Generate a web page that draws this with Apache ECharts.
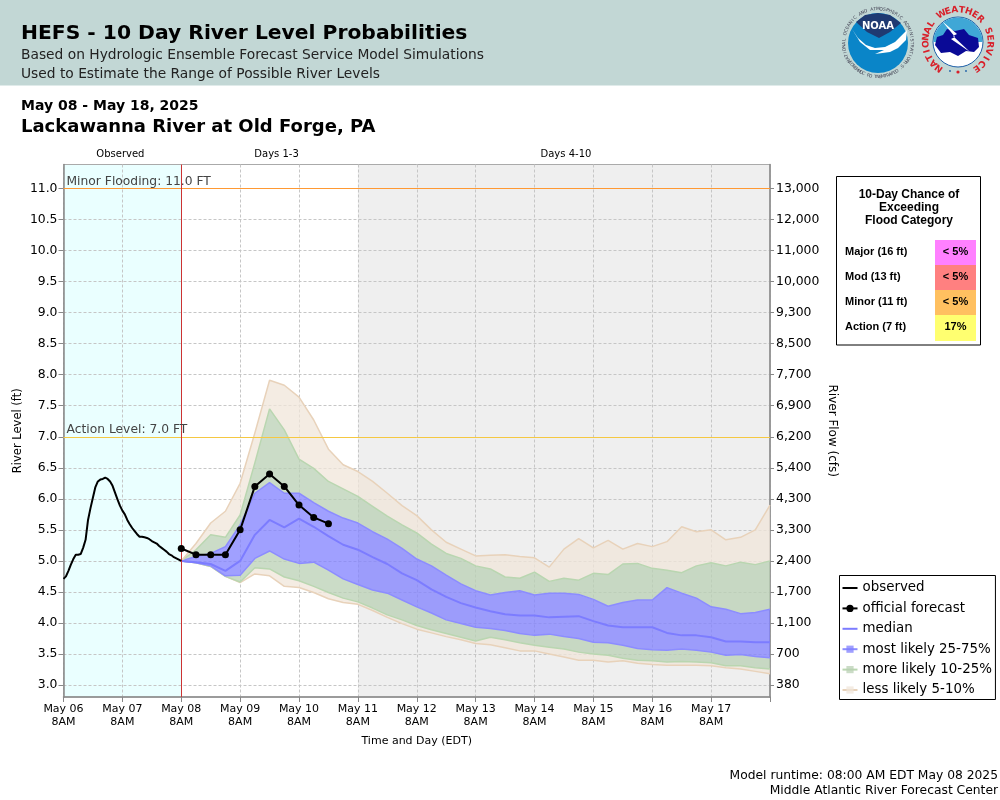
<!DOCTYPE html>
<html lang="en">
<head>
    <meta charset="UTF-8">
    <title>HEFS - 10 Day River Level Probabilities</title>
    <style>
        html, body { margin: 0; padding: 0; background: #fff; }
        #main { width: 1000px; height: 800px; }
    </style>
</head>
<body>
<script src="https://cdn.jsdelivr.net/npm/echarts@6/dist/echarts.min.js"></script>
<div id="main"></div>

<script type="text/javascript">
    // hours since May 06 8AM
    var obsHours = [0,1,2,3,4,5,6,7,8,9,10,11,12,13,14,15,16,17,18,19,20,21,22,23,24,25,26,27,28,29,30,31,32,33,34,35,36,37,38,39,40,41,42,43,44,45,46,47,48];
    var observed = [4.71,4.75,4.84,4.94,5.03,5.10,5.10,5.11,5.21,5.34,5.66,5.85,6.02,6.19,6.28,6.31,6.32,6.34,6.32,6.28,6.21,6.10,5.99,5.89,5.81,5.75,5.66,5.59,5.53,5.48,5.43,5.39,5.39,5.38,5.37,5.35,5.32,5.30,5.28,5.24,5.21,5.18,5.15,5.11,5.09,5.06,5.04,5.02,5.00];

    var fcstHours = [48,54,60,66,72,78,84,90,96,102,108];
    var official = [5.2,5.1,5.1,5.1,5.5,6.2,6.4,6.2,5.9,5.7,5.6];

    // ensemble traces, every 6 hours from May 08 8AM to May 18 8AM
    var bandHours = [48,54,60,66,72,78,84,90,96,102,108,114,120,126,132,138,144,150,156,162,168,174,180,186,192,198,204,210,216,222,228,234,240,246,252,258,264,270,276,282,288];
    var p95 = [5.00,5.28,5.61,5.80,6.25,7.06,7.91,7.83,7.64,7.27,6.80,6.55,6.44,6.28,6.09,5.89,5.73,5.50,5.30,5.19,5.08,5.09,5.10,5.07,5.05,4.90,5.19,5.36,5.21,5.33,5.19,5.28,5.23,5.31,5.55,5.47,5.50,5.34,5.38,5.50,5.90];
    var p90 = [5.00,5.18,5.42,5.38,5.74,6.58,7.45,7.11,6.64,6.49,6.28,6.16,6.04,5.88,5.72,5.58,5.45,5.27,5.12,5.04,4.92,4.87,4.74,4.72,4.82,4.67,4.72,4.69,4.80,4.78,4.95,4.96,4.88,4.85,4.81,4.92,4.97,4.92,4.98,4.94,5.00];
    var p75 = [5.00,5.07,5.12,5.23,5.58,6.09,6.26,6.09,6.09,5.94,5.80,5.69,5.61,5.47,5.35,5.20,5.03,4.92,4.77,4.63,4.52,4.45,4.49,4.52,4.45,4.48,4.48,4.46,4.38,4.27,4.33,4.37,4.37,4.57,4.48,4.40,4.26,4.22,4.15,4.17,4.22];
    var median = [5.00,4.98,4.95,4.84,5.00,5.42,5.66,5.54,5.68,5.55,5.40,5.26,5.18,5.06,4.95,4.80,4.69,4.54,4.42,4.32,4.25,4.19,4.14,4.12,4.12,4.09,4.10,4.11,4.03,3.96,3.93,3.93,3.93,3.84,3.80,3.80,3.77,3.70,3.70,3.69,3.69];
    var p25 = [5.00,4.97,4.92,4.76,4.77,5.04,5.16,5.03,4.96,4.98,4.85,4.71,4.62,4.53,4.48,4.37,4.26,4.16,4.05,3.99,3.93,3.91,3.88,3.83,3.80,3.82,3.78,3.75,3.69,3.68,3.64,3.59,3.57,3.56,3.58,3.56,3.53,3.48,3.49,3.46,3.44];
    var p10 = [5.00,4.97,4.91,4.75,4.66,4.89,4.87,4.74,4.68,4.59,4.49,4.40,4.34,4.24,4.13,4.05,3.96,3.89,3.83,3.77,3.71,3.77,3.73,3.68,3.64,3.61,3.58,3.53,3.50,3.48,3.43,3.40,3.39,3.37,3.38,3.37,3.36,3.31,3.31,3.28,3.26];
    var p5 = [5.00,4.97,4.91,4.75,4.65,4.79,4.76,4.59,4.57,4.49,4.39,4.33,4.30,4.20,4.09,3.99,3.90,3.84,3.78,3.73,3.67,3.65,3.60,3.55,3.55,3.50,3.45,3.40,3.40,3.37,3.39,3.35,3.33,3.32,3.32,3.32,3.31,3.28,3.26,3.22,3.18];

    var stageTicks = [3.0,3.5,4.0,4.5,5.0,5.5,6.0,6.5,7.0,7.5,8.0,8.5,9.0,9.5,10.0,10.5,11.0];
    var flowTicks = ['380','700','1,100','1,700','2,400','3,300','4,300','5,400','6,200','6,900','7,700','8,500','9,300','10,000','11,000','12,000','13,000'];
    var timeLabels = ['May 06','May 07','May 08','May 09','May 10','May 11','May 12','May 13','May 14','May 15','May 16','May 17'];

    var floodRows = ['Major (16 ft)','Mod (13 ft)','Minor (11 ft)','Action (7 ft)'];
    var floodChance = ['< 5%','< 5%','< 5%','17%'];
    var floodColors = ['#ff80ff','#ff8080','#ffc060','#ffff70'];

    var nowHour = 48;
    var shortRangeEnd = 120;
    var endHour = 288;
    var actionLevel = 7.0;
    var minorLevel = 11.0;
    var stageMin = 2.807;
    var stageMax = 11.387;

    var FONT = 'DejaVu Sans';
    var GRID_LINE = { color: '#c6c6c6', type: [3, 2], width: 1 };
    var TAN = 'rgba(240,230,218,0.75)', TAN_LINE = '#e8d2ba';
    var GREEN = 'rgba(186,208,180,0.75)', GREEN_LINE = '#b9d6b0';
    var BLUE = 'rgba(128,128,255,0.75)', BLUE_LINE = '#8c8cff';

    // one category per hour, named only at the daily 8AM ticks
    var hourCategories = [];
    for (var h = 0; h <= endHour; h++) {
        var day = timeLabels[h / 24];
        hourCategories.push(day ? day + '\n8AM' : '');
    }

    function pairs(xs, ys) {
        return xs.map(function (x, i) { return [x, ys[i]]; });
    }

    // thickness of one band over the trace below it
    function layer(upper, lower) {
        return pairs(bandHours, upper.map(function (v, i) { return v - lower[i]; }));
    }

    function bandSeries(name, upper, lower, fill, edge) {
        return {
            name: name,
            type: 'line',
            stack: 'bands',
            data: layer(upper, lower),
            symbol: 'rect',
            showSymbol: false,
            silent: true,
            lineStyle: { color: edge, width: 1.5 },
            itemStyle: { color: fill },
            areaStyle: { color: fill, opacity: 1 },
            z: 2
        };
    }

    // letters set one by one around a circle, angle in degrees clockwise from the top
    function ringText(text, cx, cy, r, from, to, size, color, weight, flip) {
        var out = [];
        var step = (to - from) / (text.length - 1);
        for (var i = 0; i < text.length; i++) {
            var a = (from + step * i) * Math.PI / 180;
            out.push({
                type: 'text',
                x: cx + r * Math.sin(a),
                y: cy - r * Math.cos(a),
                rotation: flip ? Math.PI - a : -a,
                z: 20,
                style: { text: text.charAt(i), fill: color, font: weight + ' ' + size + 'px "' + FONT + '"', textAlign: 'center', textVerticalAlign: 'middle' }
            });
        }
        return out;
    }

    function plainText(text, x, y, font, color, align) {
        return {
            type: 'text', x: x, y: y, z: 20,
            style: { text: text, font: font, fill: color || '#000', textAlign: align || 'left', textVerticalAlign: 'middle' }
        };
    }

    function poly(points, fill, z) {
        return { type: 'polygon', shape: { points: points }, style: { fill: fill }, z: z };
    }

    var graphics = [
        { type: 'rect', shape: { x: 0, y: 0, width: 1000, height: 85.5 }, style: { fill: '#c2d7d5' }, z: -10 },
        plainText('Based on Hydrologic Ensemble Forecast Service Model Simulations', 21, 55, '13.8px "' + FONT + '"', '#222'),
        plainText('Used to Estimate the Range of Possible River Levels', 21, 74, '13.8px "' + FONT + '"', '#222'),
        plainText('Model runtime: 08:00 AM EDT May 08 2025', 998, 776, '12.3px "' + FONT + '"', '#000', 'right'),
        plainText('Middle Atlantic River Forecast Center', 998, 791, '12.3px "' + FONT + '"', '#000', 'right'),

        // NOAA logo
        { type: 'circle', shape: { cx: 878, cy: 43, r: 30 }, style: { fill: '#0a85c8' }, z: 15 },
        poly([[852,29],[858,38],[866,45],[875,48],[885,47],[895,42],[907,30],[906,40],[898,48],[890,52],[875,54],[884,50],[870,50],[860,42]], '#fff', 16),
        poly([[856,22],[865,15],[878,13],[890,15],[901,23],[890,32],[879,38],[867,32]], '#1f3a72', 16),
        plainText('NOAA', 878, 26, 'bold 10px "' + FONT + '"', '#fff', 'center'),

        // NWS logo
        { type: 'circle', shape: { cx: 958, cy: 42, r: 25 }, style: { fill: '#fff', stroke: '#1d5fa8', lineWidth: 1 }, z: 15 },
        { type: 'sector', shape: { cx: 958, cy: 42, r: 24.5, startAngle: Math.PI, endAngle: Math.PI * 2 }, style: { fill: '#3fa7d6' }, z: 16 },
        poly([[935,45],[937,37],[943,35],[947,29],[955,31],[964,29],[969,35],[978,38],[979,47],[974,52],[966,51],[958,56],[950,52],[941,53]], '#0a0a96', 17),
        poly([[942,21],[957,34],[953,36],[970,52],[951,39],[955,37]], '#fff', 18),
        { type: 'circle', shape: { cx: 958, cy: 72, r: 1.6 }, style: { fill: '#d8202a' }, z: 16 },
        { type: 'circle', shape: { cx: 950, cy: 71, r: 0.9 }, style: { fill: '#1d5fa8' }, z: 16 },
        { type: 'circle', shape: { cx: 966, cy: 71, r: 0.9 }, style: { fill: '#1d5fa8' }, z: 16 },

        // flood category table
        { type: 'rect', shape: { x: 836.5, y: 176.5, width: 144, height: 168.5 }, style: { fill: '#fff', stroke: '#000', lineWidth: 1 }, z: 10 },
        plainText('10-Day Chance of', 909, 195, 'bold 12px "Liberation Sans"', '#000', 'center'),
        plainText('Exceeding', 909, 208, 'bold 12px "Liberation Sans"', '#000', 'center'),
        plainText('Flood Category', 909, 221, 'bold 12px "Liberation Sans"', '#000', 'center')
    ];

    floodRows.forEach(function (row, i) {
        var top = 240 + i * 25;
        graphics.push({ type: 'rect', shape: { x: 935, y: top, width: 41, height: i === 3 ? 26 : 25 }, style: { fill: floodColors[i] }, z: 11 });
        graphics.push(plainText(row, 845, top + 12, 'bold 11px "Liberation Sans"'));
        graphics.push(plainText(floodChance[i], 955.5, top + 12, 'bold 11px "Liberation Sans"', '#000', 'center'));
    });

    graphics = graphics
        .concat(ringText('NATIONAL WEATHER SERVICE', 958, 42, 32, -144, 145, 9, '#d8202a', 'bold', false))
        .concat(ringText('NATIONAL OCEANIC AND ATMOSPHERIC ADMINISTRATION', 878, 43, 34, -122, 122, 4.5, '#445', 'normal', false))
        .concat(ringText('U.S. DEPARTMENT OF COMMERCE', 878, 43, 34, 125, 235, 4.5, '#445', 'normal', true));

    var option = {
        animation: false,
        backgroundColor: '#fff',
        textStyle: { fontFamily: FONT },
        title: [
            { text: 'HEFS - 10 Day River Level Probabilities', left: 21, top: 24, padding: 0, textStyle: { fontFamily: FONT, fontWeight: 'bold', fontSize: 20.3, color: '#000' } },
            { text: 'May 08 - May 18, 2025', left: 21, top: 99, padding: 0, textStyle: { fontFamily: FONT, fontWeight: 'bold', fontSize: 14, color: '#000' } },
            { text: 'Lackawanna River at Old Forge, PA', left: 21, top: 118, padding: 0, textStyle: { fontFamily: FONT, fontWeight: 'bold', fontSize: 18, color: '#000' } }
        ],
        graphic: graphics,
        legend: {
            left: 839.5,
            top: 575.5,
            orient: 'vertical',
            selectedMode: false,
            backgroundColor: '#fff',
            borderColor: '#000',
            borderWidth: 1,
            borderRadius: 0,
            padding: [6, 3.5, 3, 2],
            itemWidth: 15,
            itemHeight: 9,
            itemGap: 7.4,
            textStyle: { fontFamily: FONT, fontSize: 13.4, color: '#000' },
            data: [
                { name: 'observed', itemStyle: { color: 'transparent' } },
                { name: 'official forecast' },
                { name: 'median', itemStyle: { color: 'transparent' } },
                { name: 'most likely 25-75%', itemStyle: { color: BLUE }, lineStyle: { color: BLUE_LINE, width: 2 } },
                { name: 'more likely 10-25%', itemStyle: { color: GREEN }, lineStyle: { color: GREEN_LINE, width: 2 } },
                { name: 'less likely 5-10%', itemStyle: { color: TAN }, lineStyle: { color: TAN_LINE, width: 2 } }
            ]
        },
        grid: { left: 63.5, top: 164.5, width: 706.5, height: 532.5, show: true, backgroundColor: 'transparent', borderColor: '#aaa', borderWidth: 1, outerBoundsMode: 'none' },
        xAxis: {
            type: 'category',
            data: hourCategories,
            boundaryGap: false,
            name: 'Time and Day (EDT)',
            nameLocation: 'middle',
            nameGap: 39,
            nameTextStyle: { fontSize: 11, color: '#000' },
            axisLine: { lineStyle: { color: '#888', width: 1.5 } },
            axisTick: { length: 5, interval: 23, lineStyle: { color: '#888' } },
            axisLabel: {
                fontSize: 11,
                color: '#000',
                lineHeight: 13,
                margin: 6,
                interval: 23
            },
            splitLine: { show: true, interval: 23, lineStyle: GRID_LINE }
        },
        yAxis: [
            {
                type: 'value',
                min: stageMin,
                max: stageMax,
                name: 'River Level (ft)',
                nameLocation: 'middle',
                nameRotate: 90,
                nameGap: 39,
                nameMoveOverlap: false,
                nameTextStyle: { fontSize: 11.5, color: '#000' },
                axisLine: { show: true, lineStyle: { color: '#888', width: 1.5 } },
                axisTick: { show: true, length: 5, customValues: stageTicks, lineStyle: { color: '#888' } },
                axisLabel: {
                    fontSize: 12.4,
                    color: '#000',
                    margin: 6,
                    customValues: stageTicks,
                    formatter: function (v) { return v.toFixed(1); }
                },
                splitLine: { show: true, lineStyle: GRID_LINE }
            },
            {
                type: 'value',
                position: 'right',
                min: stageMin,
                max: stageMax,
                name: 'River Flow (cfs)',
                nameLocation: 'middle',
                nameRotate: -90,
                nameGap: 56,
                nameMoveOverlap: false,
                nameTextStyle: { fontSize: 12, color: '#000' },
                axisLine: { show: true, lineStyle: { color: '#888', width: 1.5 } },
                axisTick: { show: true, length: 4, customValues: stageTicks, lineStyle: { color: '#888' } },
                axisLabel: {
                    fontSize: 12.4,
                    color: '#000',
                    margin: 6,
                    customValues: stageTicks,
                    formatter: function (v) { return flowTicks[stageTicks.indexOf(v)]; }
                },
                splitLine: { show: false }
            }
        ],
        series: [
            // period shading sits under the grid lines
            {
                name: 'periods',
                type: 'line',
                data: [],
                z: -1,
                silent: true,
                markArea: {
                    silent: true,
                    z: -1,
                    label: { position: 'top', fontSize: 10, color: '#000', distance: 5 },
                    data: [
                        [{ name: 'Observed', xAxis: 0, yAxis: stageMin, itemStyle: { color: '#eaffff' }, label: { offset: [-2, 0] } }, { xAxis: nowHour, yAxis: stageMax }],
                        [{ name: 'Days 1-3', xAxis: nowHour, yAxis: stageMin, itemStyle: { color: '#fff' }, label: { offset: [7, 0] } }, { xAxis: shortRangeEnd, yAxis: stageMax }],
                        [{ name: 'Days 4-10', xAxis: shortRangeEnd, yAxis: stageMin, itemStyle: { color: '#efefef' }, label: { offset: [2, 0] } }, { xAxis: endHour, yAxis: stageMax }]
                    ]
                }
            },
            {
                name: 'flood levels',
                type: 'line',
                data: [],
                z: 1,
                silent: true,
                markLine: {
                    silent: true,
                    symbol: 'none',
                    animation: false,
                    label: { position: 'insideStartTop', fontSize: 12.3, color: '#444', distance: [3, 0.5] },
                    data: [
                        { yAxis: minorLevel, lineStyle: { color: '#ff9933', type: 'solid', width: 1.2 }, label: { formatter: 'Minor Flooding: 11.0 FT' } },
                        { yAxis: actionLevel, lineStyle: { color: '#f5c842', type: 'solid', width: 1 }, label: { formatter: 'Action Level: 7.0 FT' } },
                        { xAxis: nowHour, lineStyle: { color: '#cc3333', type: 'solid', width: 1 }, label: { show: false } }
                    ]
                }
            },
            {
                name: 'p5',
                type: 'line',
                stack: 'bands',
                data: pairs(bandHours, p5),
                showSymbol: false,
                silent: true,
                lineStyle: { color: TAN_LINE, width: 1.5 },
                z: 2
            },
            bandSeries('less likely 5-10%', p10, p5, TAN, GREEN_LINE),
            bandSeries('more likely 10-25%', p25, p10, GREEN, BLUE_LINE),
            bandSeries('most likely 25-75%', p75, p25, BLUE, BLUE_LINE),
            bandSeries('more likely 10-25%', p90, p75, GREEN, GREEN_LINE),
            bandSeries('less likely 5-10%', p95, p90, TAN, TAN_LINE),
            {
                name: 'median',
                type: 'line',
                data: pairs(bandHours, median),
                symbol: 'none',
                silent: true,
                lineStyle: { color: '#7c7cff', width: 2 },
                itemStyle: { color: '#7c7cff' },
                z: 4
            },
            {
                name: 'observed',
                type: 'line',
                data: pairs(obsHours, observed),
                symbol: 'none',
                silent: true,
                lineStyle: { color: '#000', width: 2 },
                itemStyle: { color: '#000' },
                z: 5
            },
            {
                name: 'official forecast',
                type: 'line',
                data: pairs(fcstHours, official),
                symbol: 'circle',
                symbolSize: 7,
                showAllSymbol: true,
                silent: true,
                lineStyle: { color: '#000', width: 2 },
                itemStyle: { color: '#000' },
                z: 6
            }
        ]
    };

    var myChart = echarts.init(document.getElementById('main'));
    myChart.setOption(option);
</script>
</body>
</html>
